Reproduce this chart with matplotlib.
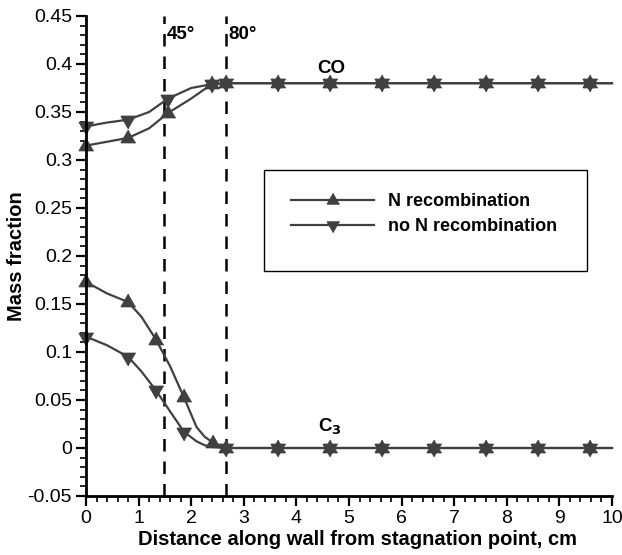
import matplotlib
matplotlib.use("Agg")
import matplotlib.pyplot as plt
import matplotlib.ticker as mticker
from matplotlib.patches import Rectangle

plt.rcParams["font.family"] = ["Liberation Sans", "DejaVu Sans"]
plt.rcParams["axes.unicode_minus"] = False

LINE_COLOR = "#404040"
# triangles centred on their centroid, so up + down overlap as a star
TRI_UP = [(0, 1), (-0.866, -0.5), (0.866, -0.5)]
TRI_DOWN = [(0, -1), (-0.866, 0.5), (0.866, 0.5)]

# flat tail shared by every curve
x_tail = [3.65, 4.64, 5.62, 6.61, 7.60, 8.59, 9.58, 10.0]

# CO mass fraction
x_co = [0.0, 0.4, 0.80, 1.2, 1.56, 2.0, 2.39, 2.66] + x_tail
co_nrec = [0.315, 0.319, 0.323, 0.333, 0.349, 0.364, 0.379, 0.380] + [0.380] * 8
co_nonrec = [0.335, 0.339, 0.342, 0.350, 0.364, 0.375, 0.379, 0.380] + [0.380] * 8
co_marks = [0, 2, 4, 6, 7, 8, 9, 10, 11, 12, 13, 14]

# C3 mass fraction
x_c3 = [0.0, 0.4, 0.80, 1.05, 1.33, 1.6, 1.86, 2.1, 2.25, 2.41, 2.66] + x_tail
c3_nrec = [0.173, 0.161, 0.152, 0.137, 0.113, 0.085, 0.053, 0.022, 0.012,
           0.0056, 0.0] + [0.0] * 8
c3_nonrec = [0.116, 0.107, 0.095, 0.080, 0.060, 0.038, 0.017, 0.007, 0.003,
             0.001, 0.0] + [0.0] * 8
c3_marks_nrec = [0, 2, 4, 6, 9, 10, 11, 12, 13, 14, 15, 16, 17]
c3_marks_nonrec = [0, 2, 4, 6, 10, 11, 12, 13, 14, 15, 16, 17]

angle_x = [1.49, 2.66]
angle_lbl = ["45°", "80°"]

fig = plt.figure(figsize=(6.22, 5.55), dpi=100)
ax = fig.add_axes([86 / 622, 1 - 496 / 555, 526 / 622, 480 / 555])

kw = dict(color=LINE_COLOR, lw=1.6, ms=12, clip_on=False)
ax.plot(x_co, co_nrec, marker=TRI_UP, markevery=co_marks, **kw)
ax.plot(x_co, co_nonrec, marker=TRI_DOWN, markevery=co_marks, **kw)
h1, = ax.plot(x_c3, c3_nrec, marker=TRI_UP, markevery=c3_marks_nrec, **kw)
h2, = ax.plot(x_c3, c3_nonrec, marker=TRI_DOWN, markevery=c3_marks_nonrec, **kw)

for xv, lbl in zip(angle_x, angle_lbl):
    ax.axvline(xv, color="black", lw=1.8, ls=(0, (5, 4)), zorder=1)
    ax.text(xv + 0.05, 0.440, lbl, fontsize=13.5, fontweight="bold", va="top")

ax.text(4.66, 0.391, "CO", fontsize=13.5, fontweight="bold", ha="center",
        va="baseline")
ax.text(4.64, 0.017, "C$_\\mathbf{3}$", fontsize=13.5, fontweight="bold",
        ha="center", va="baseline")

ax.set_xlim(0, 10)
ax.set_ylim(-0.05, 0.45)
ax.xaxis.set_major_locator(mticker.MultipleLocator(1))
ax.xaxis.set_minor_locator(mticker.MultipleLocator(0.2))
ax.yaxis.set_major_locator(mticker.MultipleLocator(0.05))
ax.yaxis.set_minor_locator(mticker.MultipleLocator(0.01))
ax.yaxis.set_major_formatter(mticker.FuncFormatter(lambda v, _: f"{round(v, 2):g}"))

for s in ["top", "right"]:
    ax.spines[s].set_visible(False)
for s in ["left", "bottom"]:
    ax.spines[s].set_linewidth(2)
ax.tick_params(which="major", length=7, width=1.6, labelsize=14, direction="out",
               pad=3)
ax.tick_params(which="minor", length=4, width=1.2, direction="out")

ax.set_xlabel("Distance along wall from stagnation point, cm", fontsize=14.5,
              fontweight="bold", labelpad=2)
ax.xaxis.label.set_x(0.516)
ax.set_ylabel("Mass fraction", fontsize=14.5, fontweight="bold", labelpad=1)

# legend box
x0, y0 = (264 - 86) / 526, (496 - 271) / 480
ax.add_patch(Rectangle((x0, y0), (587 - 264) / 526, (271 - 170) / 480,
                       transform=ax.transAxes, fill=False, ec="black", lw=1.0))
ax.legend([h1, h2], ["N recombination", "no N recombination"],
          loc="upper left", bbox_to_anchor=((291 - 86) / 526, (496 - 193) / 480),
          frameon=False, handlelength=4.6, handletextpad=0.75,
          prop={"weight": "bold", "size": 13}, markerscale=0.85,
          labelspacing=0.45, borderaxespad=0, borderpad=0)

fig.savefig("out.png", dpi=100)
